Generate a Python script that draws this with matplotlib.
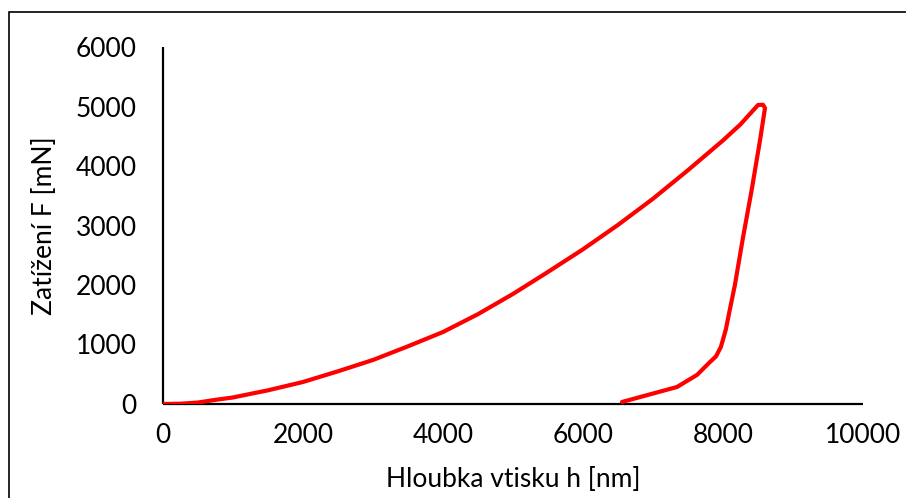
import matplotlib.pyplot as plt
from matplotlib.patches import Rectangle

# loading branch (depth nm, force mN)
h_load = [0, 250, 500, 750, 1000, 1500, 2000, 2500, 3000, 3500, 4000,
          4500, 5000, 5500, 6000, 6500, 7000, 7500, 8000, 8250, 8450,
          8500, 8570]
F_load = [0, 5, 25, 70, 110, 230, 370, 550, 740, 970, 1210,
          1510, 1850, 2220, 2600, 3010, 3450, 3930, 4430, 4700, 4960,
          5025, 5030]

# unloading branch
h_unload = [8600, 8530, 8410, 8280, 8170, 8100, 8040, 7970, 7900, 7800,
            7630, 7343, 6557]
F_unload = [4975, 4440, 3600, 2760, 2000, 1600, 1250, 960, 800, 690,
            490, 286, 34]

xticks = [0, 2000, 4000, 6000, 8000, 10000]
yticks = [0, 1000, 2000, 3000, 4000, 5000, 6000]

plt.rcParams['font.family'] = ['Lato', 'DejaVu Sans']
plt.rcParams['font.size'] = 19

fig = plt.figure(figsize=(9.06, 4.98), dpi=100)
ax = fig.add_axes([163 / 906, 1 - 404 / 498, 700 / 906, 357 / 498])

ax.plot(h_load + h_unload, F_load + F_unload, color='#ff0000', lw=3,
        solid_joinstyle='round', solid_capstyle='round', zorder=3)

ax.set_xlim(0, 10000)
ax.set_ylim(0, 6000)
ax.set_xticks(xticks)
ax.set_yticks(yticks)
ax.tick_params(length=0, pad=19, labelsize=19)
ax.tick_params(axis='x', pad=14)

for s in ['top', 'right']:
    ax.spines[s].set_visible(False)
for s in ['left', 'bottom']:
    ax.spines[s].set_linewidth(1.6)
    ax.spines[s].set_color('black')
    ax.spines[s].set_capstyle('butt')

ax.set_xlabel('Hloubka vtisku h [nm]', labelpad=13)
ax.set_ylabel('Zatížení F [mN]', labelpad=13)

# outer chart frame (cut off at right/bottom in the original)
fig.patches.append(Rectangle((9 / 906, -0.05), 1.2, 1 - 12 / 498 + 0.05,
                             transform=fig.transFigure, fill=False,
                             edgecolor='black', lw=1.2))

fig.savefig('out.png', dpi=100)
